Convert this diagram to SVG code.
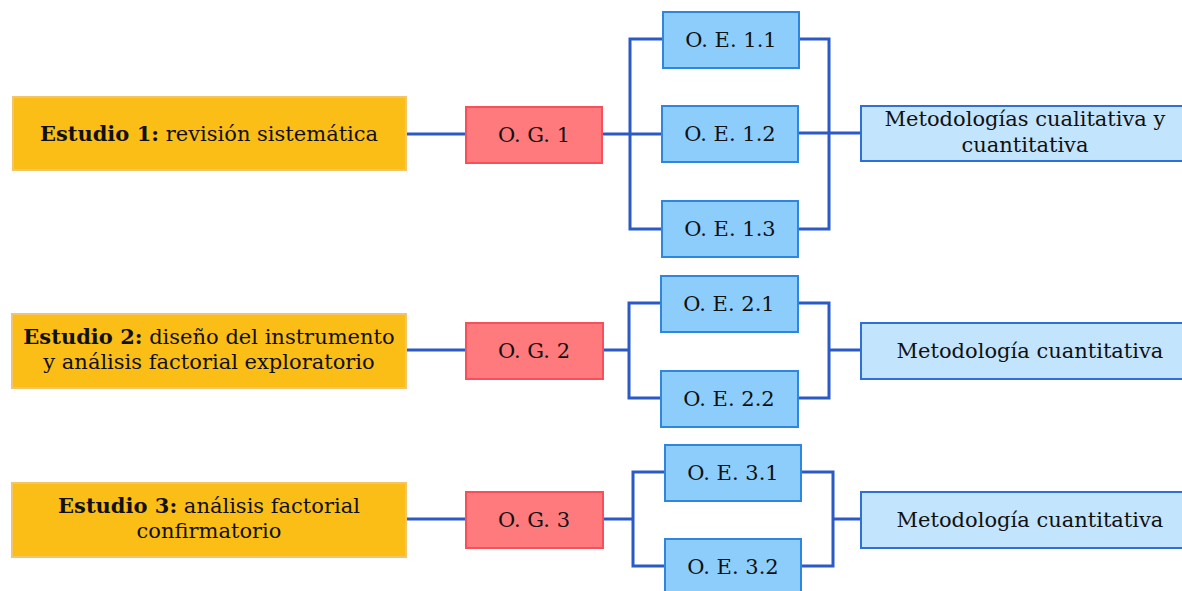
<svg xmlns="http://www.w3.org/2000/svg" width="1182" height="591" viewBox="0 0 1182 591">
<style>
text{font-family:'DejaVu Serif',serif;font-size:21px;fill:#111;text-anchor:middle}
.b{font-weight:bold}
.est{fill:#FBBE17;stroke:#F3C46E;stroke-width:2}
.og{fill:#FF7A7C;stroke:#F5505C;stroke-width:2}
.oe{fill:#8DCDFC;stroke:#2E86DF;stroke-width:2}
.met{fill:#C3E4FD;stroke:#2F70D6;stroke-width:2}
.c{fill:none;stroke:#2A5BC5;stroke-width:3;stroke-linejoin:miter}
</style>
<rect width="1182" height="591" fill="#fff"/>
<g id="connectors">
<path class="c" d="M406 134H466M602 134H663M663 39H630V229H663M798 39H829V229H798M798 133H861"/>
<path class="c" d="M406 350H466M603 350H629M661 303H629V398H661M798 303H829V398H798M829 350H861"/>
<path class="c" d="M406 519H466M603 519H633M665 472H633V566H665M801 472H833V566H801M833 519H861"/>
</g>
<g id="estudio1"><rect class="est" x="13" y="97" width="393" height="73"/><text x="209" y="141"><tspan class="b">Estudio 1:</tspan> revisión sistemática</text></g>
<g id="estudio2"><rect class="est" x="12" y="314" width="394" height="74"/><text x="209" y="344"><tspan class="b">Estudio 2:</tspan> diseño del instrumento</text><text x="209" y="369">y análisis factorial exploratorio</text></g>
<g id="estudio3"><rect class="est" x="12" y="483" width="394" height="74"/><text x="209" y="513"><tspan class="b">Estudio 3:</tspan> análisis factorial</text><text x="209" y="538">confirmatorio</text></g>
<g id="og1"><rect class="og" x="466" y="107" width="136" height="56"/><text x="534" y="142">O. G. 1</text></g>
<g id="og2"><rect class="og" x="466" y="323" width="137" height="56"/><text x="534" y="358">O. G. 2</text></g>
<g id="og3"><rect class="og" x="466" y="492" width="137" height="56"/><text x="534" y="527">O. G. 3</text></g>
<g id="oe11"><rect class="oe" x="663" y="12" width="136" height="56"/><text x="731" y="47">O. E. 1.1</text></g>
<g id="oe12"><rect class="oe" x="662" y="106" width="136" height="56"/><text x="730" y="141">O. E. 1.2</text></g>
<g id="oe13"><rect class="oe" x="662" y="201" width="136" height="56"/><text x="730" y="236">O. E. 1.3</text></g>
<g id="oe21"><rect class="oe" x="661" y="276" width="137" height="56"/><text x="729" y="311">O. E. 2.1</text></g>
<g id="oe22"><rect class="oe" x="661" y="371" width="137" height="56"/><text x="729" y="406">O. E. 2.2</text></g>
<g id="oe31"><rect class="oe" x="665" y="445" width="136" height="56"/><text x="733" y="480">O. E. 3.1</text></g>
<g id="oe32"><rect class="oe" x="665" y="539" width="136" height="56"/><text x="733" y="574">O. E. 3.2</text></g>
<g id="met1"><rect class="met" x="861" y="106" width="325" height="55"/><text x="1025" y="126">Metodologías cualitativa y</text><text x="1025" y="152">cuantitativa</text></g>
<g id="met2"><rect class="met" x="861" y="323" width="325" height="56"/><text x="1030" y="358">Metodología cuantitativa</text></g>
<g id="met3"><rect class="met" x="861" y="492" width="325" height="56"/><text x="1030" y="527">Metodología cuantitativa</text></g>
</svg>
